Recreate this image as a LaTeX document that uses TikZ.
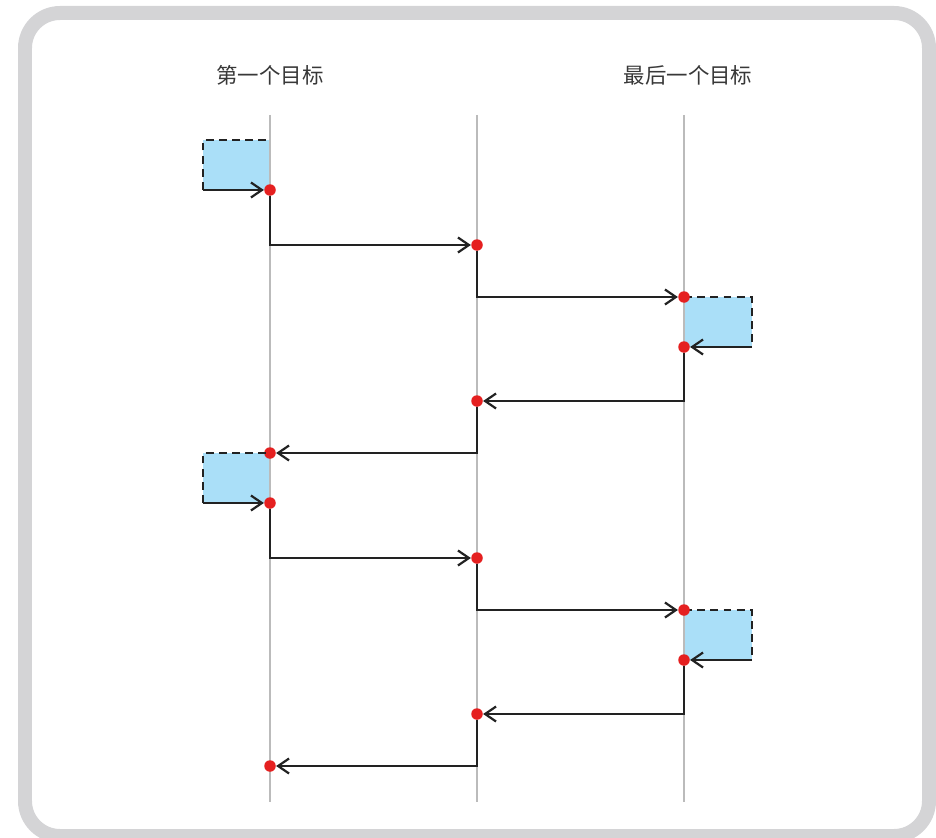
\documentclass[tikz,border=0pt]{standalone}
\usepackage{fontspec}
\newfontfamily\cjk{Noto Sans CJK SC}
\usetikzlibrary{arrows.meta}
\definecolor{framegray}{HTML}{D4D4D6}
\definecolor{boxblue}{HTML}{AADFF8}
\definecolor{dotred}{HTML}{E52020}
\definecolor{lifegray}{HTML}{BBBBBB}
\definecolor{ink}{HTML}{222222}
\tikzset{
  headtext/.style={font=\cjk\fontsize{12.2pt}{14pt}\selectfont, text=ink!90},
  lifeline/.style={lifegray, line width=0.8pt},
  boxfill/.style={fill=boxblue},
  boxedge/.style={ink, line width=1.2pt, dash pattern=on 4.5pt off 3pt},
  dot/.style={circle, fill=dotred, inner sep=0pt, minimum size=0.23cm},
  msg/.style={ink, line width=1.25pt, -{Straight Barb[length=0.22cm, width=0.3cm, line width=1.25pt]}}
}
\begin{document}
\begin{tikzpicture}[x=0.02cm, y=-0.02cm]
    \useasboundingbox (0,0) rectangle (936,838);
    % frame
    \draw[framegray, line width=0.28cm, rounded corners=0.7cm] (25,13) rectangle (929,836);
    % headers
    \node[headtext] (firsthead) at (270,75) {第一个目标};
    \node[headtext] (lasthead) at (688,75) {最后一个目标};
    % boxes
    \foreach \c/\dy in {1/0, 2/313}
        {\fill[boxfill] (203,140+\dy) rectangle (270,190+\dy);
         \fill[boxfill] (684,297+\dy) rectangle (752,347+\dy);};
    % lifelines
    \foreach \x/\n in {270/first, 477/mid, 684/last}
        {\coordinate (\n top) at (\x,115);
         \coordinate (\n bottom) at (\x,802);
         \draw[lifeline] (\n top) -- (\n bottom);};
    % one round trip, twice
    \foreach \c/\dy in {1/0, 2/313}
        {\draw[boxedge] (203,190+\dy) -- (203,140+\dy) -- (270,140+\dy);
         \draw[boxedge] (684,297+\dy) -- (752,297+\dy) -- (752,347+\dy);
         \node[dot] (first\c) at (270,190+\dy) {};
         \node[dot] (mid\c) at (477,245+\dy) {};
         \node[dot] (last\c) at (684,297+\dy) {};
         \node[dot] (back\c) at (684,347+\dy) {};
         \node[dot] (midback\c) at (477,401+\dy) {};
         \node[dot] (return\c) at (270,453+\dy) {};
         \coordinate (enter\c) at (203,190+\dy);
         \coordinate (exit\c) at (752,347+\dy);
         \draw[msg] (enter\c) -- (first\c);
         \draw[msg] (first\c) |- (mid\c);
         \draw[msg] (mid\c) |- (last\c);
         \draw[msg] (exit\c) -- (back\c);
         \draw[msg] (back\c) |- (midback\c);
         \draw[msg] (midback\c) |- (return\c);};
\end{tikzpicture}
\end{document}
